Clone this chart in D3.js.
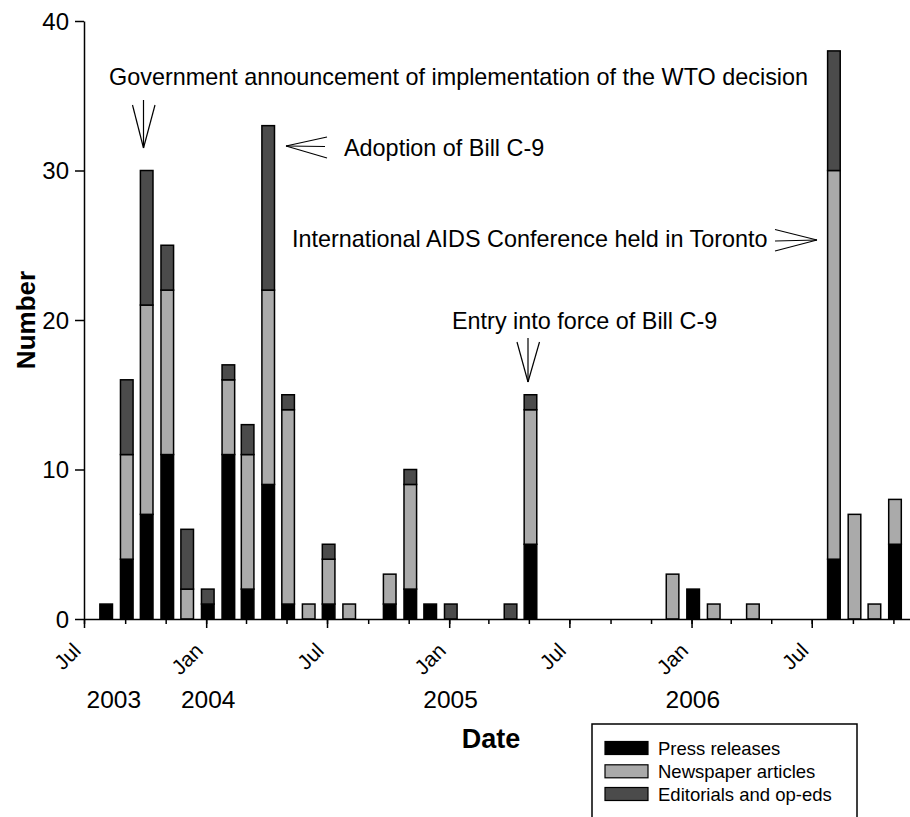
<!DOCTYPE html>
<html>
<head>
<meta charset="utf-8">
<script src="https://cdn.jsdelivr.net/npm/d3@7"></script>
<style>
  html, body { margin: 0; padding: 0; background: #fff; }
  svg { display: block; font-family: "Liberation Sans", Arial, Helvetica, sans-serif; }
  .ytl { font-size: 24px; }
  .xtl { font-size: 21px; }
</style>
</head>
<body>
<svg id="chart" width="910" height="817"></svg>
<script>
// ---------------- DATA ----------------
const months = [
  "2003-08","2003-09","2003-10","2003-11","2003-12",
  "2004-01","2004-02","2004-03","2004-04","2004-05","2004-06","2004-07","2004-08","2004-09","2004-10","2004-11","2004-12",
  "2005-01","2005-02","2005-03","2005-04","2005-05","2005-06","2005-07","2005-08","2005-09","2005-10","2005-11","2005-12",
  "2006-01","2006-02","2006-03","2006-04","2006-05","2006-06","2006-07","2006-08","2006-09","2006-10","2006-11"
];
const pressReleases = [
  1,4,7,11,0,
  1,11,2,9,1,0,1,0,0,1,2,1,
  0,0,0,0,5,0,0,0,0,0,0,0,
  2,0,0,0,0,0,0,4,0,0,5
];
const newspaperArticles = [
  0,7,14,11,2,
  0,5,9,13,13,1,3,1,0,2,7,0,
  0,0,0,0,9,0,0,0,0,0,0,3,
  0,1,0,1,0,0,0,26,7,1,3
];
const editorials = [
  0,5,9,3,4,
  1,1,2,11,1,0,1,0,0,0,1,0,
  1,0,0,1,1,0,0,0,0,0,0,0,
  0,0,0,0,0,0,0,8,0,0,0
];
const seriesNames = ["Press releases","Newspaper articles","Editorials and op-eds"];
const yTickValues = [0,10,20,30,40];
const xTickLabels = ["Jul","Jan","Jul","Jan","Jul","Jan","Jul"];
const yearLabels = ["2003","2004","2005","2006"];
const yearLabelDates = ["2003-08-15","2004-01-04","2005-01-03","2006-01-03"];
const annotationTexts = [
  "Government announcement of implementation of the WTO decision",
  "Adoption of Bill C-9",
  "International AIDS Conference held in Toronto",
  "Entry into force of Bill C-9"
];

// ---------------- LAYOUT / STYLE ----------------
const colors = ["#000000","#aaaaaa","#4b4b4b"];
const FONT_ANN = 23.4;
const svg = d3.select("#chart");
const parseM = d3.utcParse("%Y-%m");
const parseD = d3.utcParse("%Y-%m-%d");

const x = d3.scaleUtc()
  .domain([parseD("2003-07-01"), parseD("2006-11-26")])
  .range([84, 910]);
const y = d3.scaleLinear().domain([0, 40]).range([619, 21]);

// table for stacking
const table = months.map((m, i) => ({
  date: parseM(m),
  press: pressReleases[i],
  news: newspaperArticles[i],
  ed: editorials[i]
}));
const keys = ["press","news","ed"];
const stacked = d3.stack().keys(keys)(table);

const barW = 12.6;
const barShift = 1.6;

const gBars = svg.append("g");
stacked.forEach((layer, li) => {
  gBars.selectAll(null)
    .data(layer.filter(d => d[1] - d[0] > 0))
    .join("rect")
    .attr("x", d => x(d.data.date) + barShift - barW / 2)
    .attr("width", barW)
    .attr("y", d => y(d[1]))
    .attr("height", d => y(d[0]) - y(d[1]))
    .attr("fill", colors[li])
    .attr("stroke", "#000")
    .attr("stroke-width", 1.5);
});

// ---------------- AXES ----------------
const yAxis = d3.axisLeft(y).tickValues(yTickValues).tickSize(9).tickSizeOuter(0).tickFormat("");
const gy = svg.append("g").attr("transform", "translate(84,0)").call(yAxis);
gy.selectAll("line, path").attr("stroke", "#000").attr("stroke-width", 1.5);

svg.append("g").selectAll("text")
  .data(yTickValues)
  .join("text")
  .attr("class", "ytl")
  .attr("x", 84 - 9 - 6)
  .attr("y", d => y(d))
  .attr("dy", "0.36em")
  .attr("text-anchor", "end")
  .attr("font-size", 24)
  .text(d => d);

const xMinor = d3.axisBottom(x).ticks(d3.utcMonth.every(2)).tickSize(5).tickSizeOuter(0).tickFormat("");
const gxMinor = svg.append("g").attr("transform", "translate(0,619)").call(xMinor);
gxMinor.selectAll("line, path").attr("stroke", "#000").attr("stroke-width", 1.5);

const majorTicks = x.ticks(d3.utcMonth.every(6));
const xMajor = d3.axisBottom(x).tickValues(majorTicks).tickSize(9).tickSizeOuter(0).tickFormat("");
const gxMajor = svg.append("g").attr("transform", "translate(0,619)").call(xMajor);
gxMajor.select(".domain").remove();
gxMajor.selectAll("line").attr("stroke", "#000").attr("stroke-width", 1.5);

svg.append("g").selectAll("text")
  .data(majorTicks)
  .join("text")
  .attr("class", "xtl")
  .attr("text-anchor", "end")
  .attr("font-size", 21)
  .attr("transform", d => `translate(${x(d) - 2},652) rotate(-45)`)
  .text((d, i) => xTickLabels[i]);

// year labels
svg.append("g").selectAll("text")
  .data(yearLabels)
  .join("text")
  .attr("x", (d, i) => x(parseD(yearLabelDates[i])))
  .attr("y", 708)
  .attr("text-anchor", "middle")
  .attr("font-size", 24.5)
  .text(d => d);

// axis titles
svg.append("text")
  .attr("x", 491).attr("y", 748)
  .attr("text-anchor", "middle")
  .attr("font-size", 27).attr("font-weight", "bold")
  .text("Date");
svg.append("text")
  .attr("transform", "translate(35,320) rotate(-90)")
  .attr("text-anchor", "middle")
  .attr("font-size", 26).attr("font-weight", "bold")
  .text("Number");

// ---------------- ANNOTATIONS ----------------
const annLayout = [
  { tx: 109, ty: 85,  lines: [[143.5,100,143.5,148],[132.5,105,143.5,148],[155,105,143.5,148]] },
  { tx: 344, ty: 156, lines: [[327,137,286,146],[325,146.5,286,146],[327,158,286,146]] },
  { tx: 292, ty: 247, lines: [[775,229.5,817,240],[775,241,817,240],[775,251,817,240]] },
  { tx: 452, ty: 329, lines: [[528,338,528,382],[517,342,528,382],[539.5,342,528,382]] }
];
const gAnn = svg.append("g");
annotationTexts.forEach((t, i) => {
  const a = annLayout[i];
  gAnn.append("text").attr("x", a.tx).attr("y", a.ty).attr("font-size", FONT_ANN).text(t);
  a.lines.forEach(l => {
    gAnn.append("line")
      .attr("x1", l[0]).attr("y1", l[1]).attr("x2", l[2]).attr("y2", l[3])
      .attr("stroke", "#000").attr("stroke-width", 1.2);
  });
});

// ---------------- LEGEND ----------------
const gLeg = svg.append("g");
gLeg.append("rect")
  .attr("x", 592).attr("y", 724).attr("width", 265).attr("height", 110)
  .attr("fill", "#fff").attr("stroke", "#000").attr("stroke-width", 1.5);
const legBase = [755, 778.3, 801];
seriesNames.forEach((name, i) => {
  gLeg.append("rect")
    .attr("x", 605).attr("y", legBase[i] - 13.5).attr("width", 43).attr("height", 13)
    .attr("fill", colors[i]).attr("stroke", "#000").attr("stroke-width", 1.2);
  gLeg.append("text")
    .attr("x", 658).attr("y", legBase[i])
    .attr("font-size", 18.5)
    .text(name);
});
</script>
</body>
</html>
